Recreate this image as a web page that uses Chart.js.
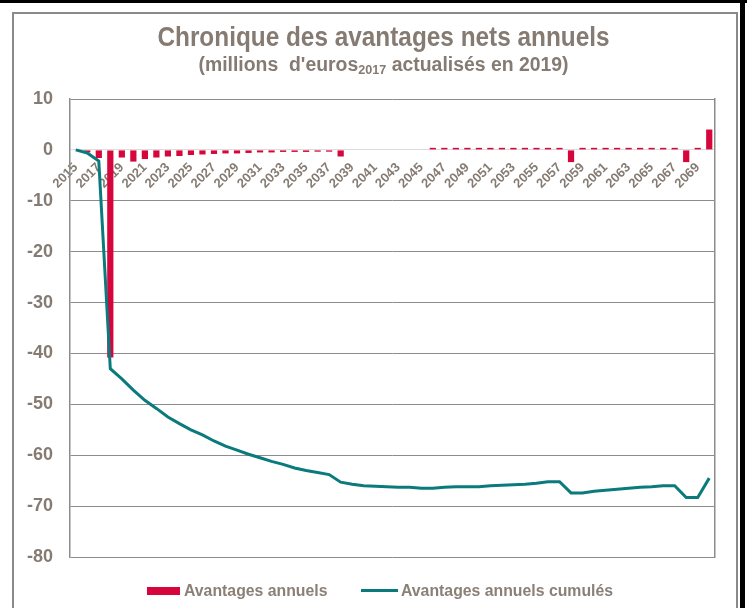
<!DOCTYPE html>
<html><head><meta charset="utf-8">
<script src="https://cdn.jsdelivr.net/npm/chart.js@4.4.1/dist/chart.umd.min.js"></script>
<style>
html,body{margin:0;padding:0;background:#fff;}
#wrap{position:relative;width:747px;height:608px;overflow:hidden;background:#fff;}
#frame{position:absolute;left:12px;top:12px;width:726px;height:640px;border:2px solid #8a8a8a;box-sizing:border-box;}
#topbar{position:absolute;left:0;top:0;width:747px;height:3px;background:#000;}
#rightbar{position:absolute;left:740px;top:0;width:5px;height:608px;background:#000;}
#chart{position:absolute;left:0;top:0;}
.t{position:absolute;left:10px;width:747px;text-align:center;color:#857b72;font-family:"Liberation Sans",sans-serif;font-weight:bold;white-space:nowrap;}
#title{top:21px;font-size:28px;transform:scaleX(0.87);}
#subtitle{top:53px;font-size:20px;transform:scaleX(0.97);}
#subtitle sub{font-size:13px;vertical-align:-3px;line-height:0;}
.leg{position:absolute;top:581px;height:20px;font-family:"Liberation Sans",sans-serif;font-weight:bold;font-size:17px;color:#8a8078;white-space:nowrap;line-height:20px;transform:scaleX(0.93);transform-origin:0 50%;}
.sw{position:absolute;}
</style></head>
<body><div id="wrap">
<div id="frame"></div>
<div id="topbar"></div>
<div id="rightbar"></div>
<canvas id="chart" width="747" height="608"></canvas>
<div class="t" id="title">Chronique des avantages nets annuels</div>
<div class="t" id="subtitle">(millions&nbsp; d'euros<sub>2017</sub> actualisés en 2019)</div>
<div class="sw" style="left:147px;top:587px;width:33px;height:8px;background:#d6053c;"></div>
<div class="leg" style="left:184px;">Avantages annuels</div>
<div class="sw" style="left:361px;top:589px;width:37px;height:3px;background:#0b7a7d;"></div>
<div class="leg" style="left:401px;">Avantages annuels cumulés</div>
</div>
<script>
const years = [];
for (let y = 2015; y <= 2070; y++) years.push(String(y));

const annualBenefits = [
  0, -0.5, -1.6, -40.8, -1.5, -2.3, -1.8, -1.5, -1.3, -1.2,
  -1.0, -0.9, -0.8, -0.7, -0.7, -0.6, -0.5, -0.5, -0.4, -0.4,
  -0.4, -0.35, -0.35, -1.3, 0, 0, 0, 0, 0, 0,
  0, 0.4, 0.4, 0.4, 0.4, 0.4, 0.4, 0.4, 0.4, 0.4,
  0.4, 0.4, 0.4, -2.4, 0.4, 0.4, 0.4, 0.4, 0.4, 0.4,
  0.4, 0.4, 0.4, -2.4, 0.4, 4.0
];

const cumulativeBenefits = [
  0, -0.6, -2.2, -43.0, -45.0, -47.2, -49.2, -50.8, -52.5, -53.8,
  -55.0, -56.0, -57.2, -58.2, -59.0, -59.8, -60.5, -61.2, -61.8, -62.5,
  -63.0, -63.4, -63.8, -65.3, -65.7, -66.0, -66.1, -66.2, -66.3, -66.3,
  -66.5, -66.5, -66.3, -66.2, -66.2, -66.2, -66.0, -65.9, -65.8, -65.7,
  -65.5, -65.2, -65.2, -67.4, -67.4, -67.1, -66.9, -66.7, -66.5, -66.3,
  -66.2, -66.0, -66.0, -68.3, -68.3, -64.5
];

const seriesNames = ["Avantages annuels", "Avantages annuels cumulés"];
const yMin = -80, yMax = 10, yStep = 10;

const textColor = '#857b72';
const gridColor = '#8c8c8c';

new Chart(document.getElementById('chart'), {
  data: {
    labels: years,
    datasets: [
      {
        type: 'line', label: seriesNames[1], data: cumulativeBenefits,
        borderColor: '#0b7a7d', borderWidth: 3, pointRadius: 0, tension: 0,
        fill: false, order: 0
      },
      {
        type: 'bar', label: seriesNames[0], data: annualBenefits,
        backgroundColor: '#d6053c', barPercentage: 0.9, categoryPercentage: 0.6,
        order: 1
      }
    ]
  },
  options: {
    responsive: false, animation: false,
    layout: { padding: { left: 12, right: 32, top: 99, bottom: 51 } },
    plugins: { legend: { display: false }, tooltip: { enabled: false }, title: { display: false } },
    scales: {
      x: {
        type: 'category', position: { y: 0 }, offset: true,
        grid: { display: false, drawTicks: false },
        border: { display: false },
        ticks: {
          autoSkip: false, maxRotation: 45, minRotation: 45, padding: 10,
          color: textColor, font: { family: 'Liberation Sans', weight: 'bold', size: 13 },
          callback: (v, i) => (i % 2 === 0 ? years[i] : '')
        }
      },
      y: {
        min: yMin, max: yMax,
        afterFit: s => { s.width = 58; },
        grid: {
          drawTicks: false, lineWidth: 1,
          color: c => (c.tick && c.tick.value === 0 ? '#dcdcdc' : gridColor)
        },
        border: { display: true, color: gridColor, width: 1.5 },
        ticks: {
          stepSize: yStep, padding: 17, color: textColor,
          font: { family: 'Liberation Sans', weight: 'bold', size: 18 }
        }
      },
      y2: {
        position: 'right', min: yMin, max: yMax,
        afterFit: s => { s.width = 0; },
        grid: { display: false, drawTicks: false },
        border: { display: true, color: gridColor, width: 1.5 },
        ticks: { display: false }
      }
    }
  }
});
</script>
</body></html>
